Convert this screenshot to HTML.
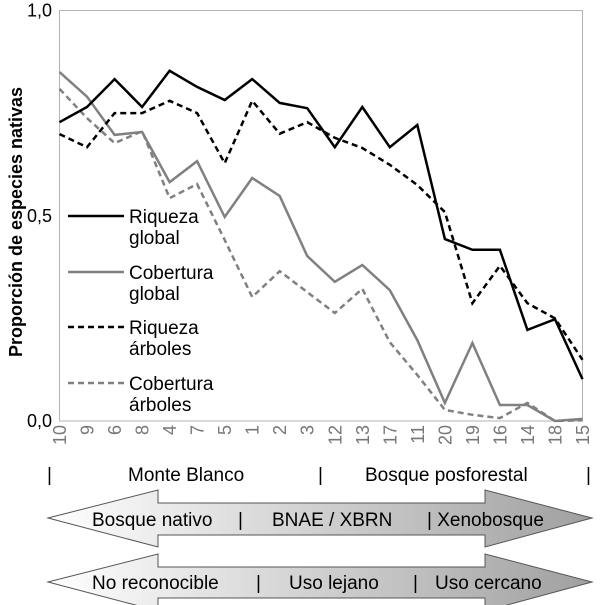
<!DOCTYPE html>
<html><head><meta charset="utf-8"><style>
html,body{margin:0;padding:0;background:#fff;}
svg{display:block;font-family:"Liberation Sans",sans-serif;}
</style></head><body>
<svg id="chart" width="600" height="605" viewBox="0 0 600 605">
<defs>
<linearGradient id="grad" x1="0" x2="1" y1="0" y2="0">
<stop offset="0" stop-color="#ffffff"/><stop offset="1" stop-color="#a0a0a0"/>
</linearGradient>
</defs>
<rect x="59.5" y="10.5" width="523" height="410.5" fill="none" stroke="#b3b3b3" stroke-width="1"/>
<g id="yticks"></g>
<g id="xticks"></g>
<g id="series"></g>
<text transform="translate(22,222) rotate(-90)" text-anchor="middle" font-size="18" font-weight="bold" fill="#000">Proporción de especies nativas</text>
<g font-size="19">
<g><line x1="68" x2="124" y1="216" y2="216" stroke="#000" stroke-width="2.5"/><text x="129" y="223">Riqueza</text><text x="129" y="244">global</text></g>
<g><line x1="68" x2="124" y1="272" y2="272" stroke="#808080" stroke-width="2.5"/><text x="129" y="279">Cobertura</text><text x="129" y="300">global</text></g>
<g><line x1="68" x2="124" y1="327" y2="327" stroke="#000" stroke-width="2.5" stroke-dasharray="6,4"/><text x="129" y="334">Riqueza</text><text x="129" y="355">árboles</text></g>
<g><line x1="68" x2="124" y1="383" y2="383" stroke="#808080" stroke-width="2.5" stroke-dasharray="6,4"/><text x="129" y="390">Cobertura</text><text x="129" y="411">árboles</text></g>
</g>
<g font-size="19">
<text x="47" y="481">|</text><text x="128" y="481">Monte Blanco</text><text x="318" y="481">|</text><text x="365" y="481">Bosque posforestal</text><text x="586" y="481">|</text>
</g>
<g>
<polygon points="48,518 158,490 158,503 485,503 485,490 592,518 485,547 485,535 158,535 158,547" fill="url(#grad)" stroke="#555" stroke-width="1"/>
<g font-size="19"><text x="92" y="526">Bosque nativo</text><text x="238" y="526">|</text><text x="272" y="526">BNAE / XBRN</text><text x="427" y="526">| Xenobosque</text></g>
</g>
<g>
<polygon points="48,582 158,554 158,567 485,567 485,554 592,582 485,611 485,598 158,598 158,611" fill="url(#grad)" stroke="#555" stroke-width="1"/>
<g font-size="19"><text x="92" y="589">No reconocible</text><text x="256" y="589">|</text><text x="289" y="589">Uso lejano</text><text x="413" y="589">|</text><text x="435" y="589">Uso cercano</text></g>
</g>
</svg>
<script>
const categories=["10","9","6","8","4","7","5","1","2","3","12","13","17","11","20","19","16","14","18","15"];
const riquezaGlobal=[0.728,0.765,0.833,0.765,0.853,0.814,0.782,0.833,0.775,0.762,0.667,0.765,0.667,0.721,0.443,0.417,0.417,0.222,0.248,0.102];
const coberturaGlobal=[0.85,0.79,0.697,0.704,0.582,0.633,0.497,0.592,0.548,0.402,0.339,0.38,0.319,0.197,0.044,0.19,0.039,0.039,0.0,0.005];
const riquezaArboles=[0.699,0.667,0.75,0.75,0.78,0.75,0.628,0.78,0.70,0.728,0.69,0.665,0.624,0.575,0.509,0.287,0.378,0.287,0.25,0.149];
const coberturaArboles=[0.809,0.738,0.677,0.706,0.543,0.577,0.441,0.302,0.365,0.314,0.263,0.322,0.192,0.112,0.027,0.015,0.007,0.044,0.0,0.002];
const yTicks=[0,0.5,1];
const yTickLabels=["0,0","0,5","1,0"];
const NS="http://www.w3.org/2000/svg";
const X0=59.5,X1=582.5,Y0=421,Y1=10.5;
function xPos(i){return X0+(X1-X0)*i/(categories.length-1);}
function yPos(v){return Y0-(Y0-Y1)*v;}
const yg=document.getElementById('yticks');
yTicks.forEach((t,i)=>{
  const tx=document.createElementNS(NS,'text');
  tx.setAttribute('x',52);tx.setAttribute('y',yPos(t)+6);
  tx.setAttribute('text-anchor','end');tx.setAttribute('font-size','18');
  tx.textContent=yTickLabels[i];
  
  
  yg.appendChild(tx);
});
const xg=document.getElementById('xticks');
categories.forEach((c,i)=>{
  const tx=document.createElementNS(NS,'text');
  const x=xPos(i)+6.5,y=425;
  tx.setAttribute('transform','translate('+x+','+y+') rotate(-90)');
  tx.setAttribute('text-anchor','end');tx.setAttribute('font-size','18');
  tx.setAttribute('fill','#777');
  tx.textContent=c;
  
  
  xg.appendChild(tx);
});
const sg=document.getElementById('series');
function drawLine(vals,color,dash,name){
  const p=document.createElementNS(NS,'polyline');
  p.setAttribute('points',vals.map((v,i)=>xPos(i).toFixed(1)+','+yPos(v).toFixed(1)).join(' '));
  p.setAttribute('fill','none');p.setAttribute('stroke',color);p.setAttribute('stroke-width','2.5');
  if(dash)p.setAttribute('stroke-dasharray',dash);
  
  
  sg.appendChild(p);
}
drawLine(coberturaArboles,'#808080','6,4','line-cobertura-arboles');
drawLine(coberturaGlobal,'#808080',null,'line-cobertura-global');
drawLine(riquezaArboles,'#000','6,4','line-riqueza-arboles');
drawLine(riquezaGlobal,'#000',null,'line-riqueza-global');
</script>
</body></html>
